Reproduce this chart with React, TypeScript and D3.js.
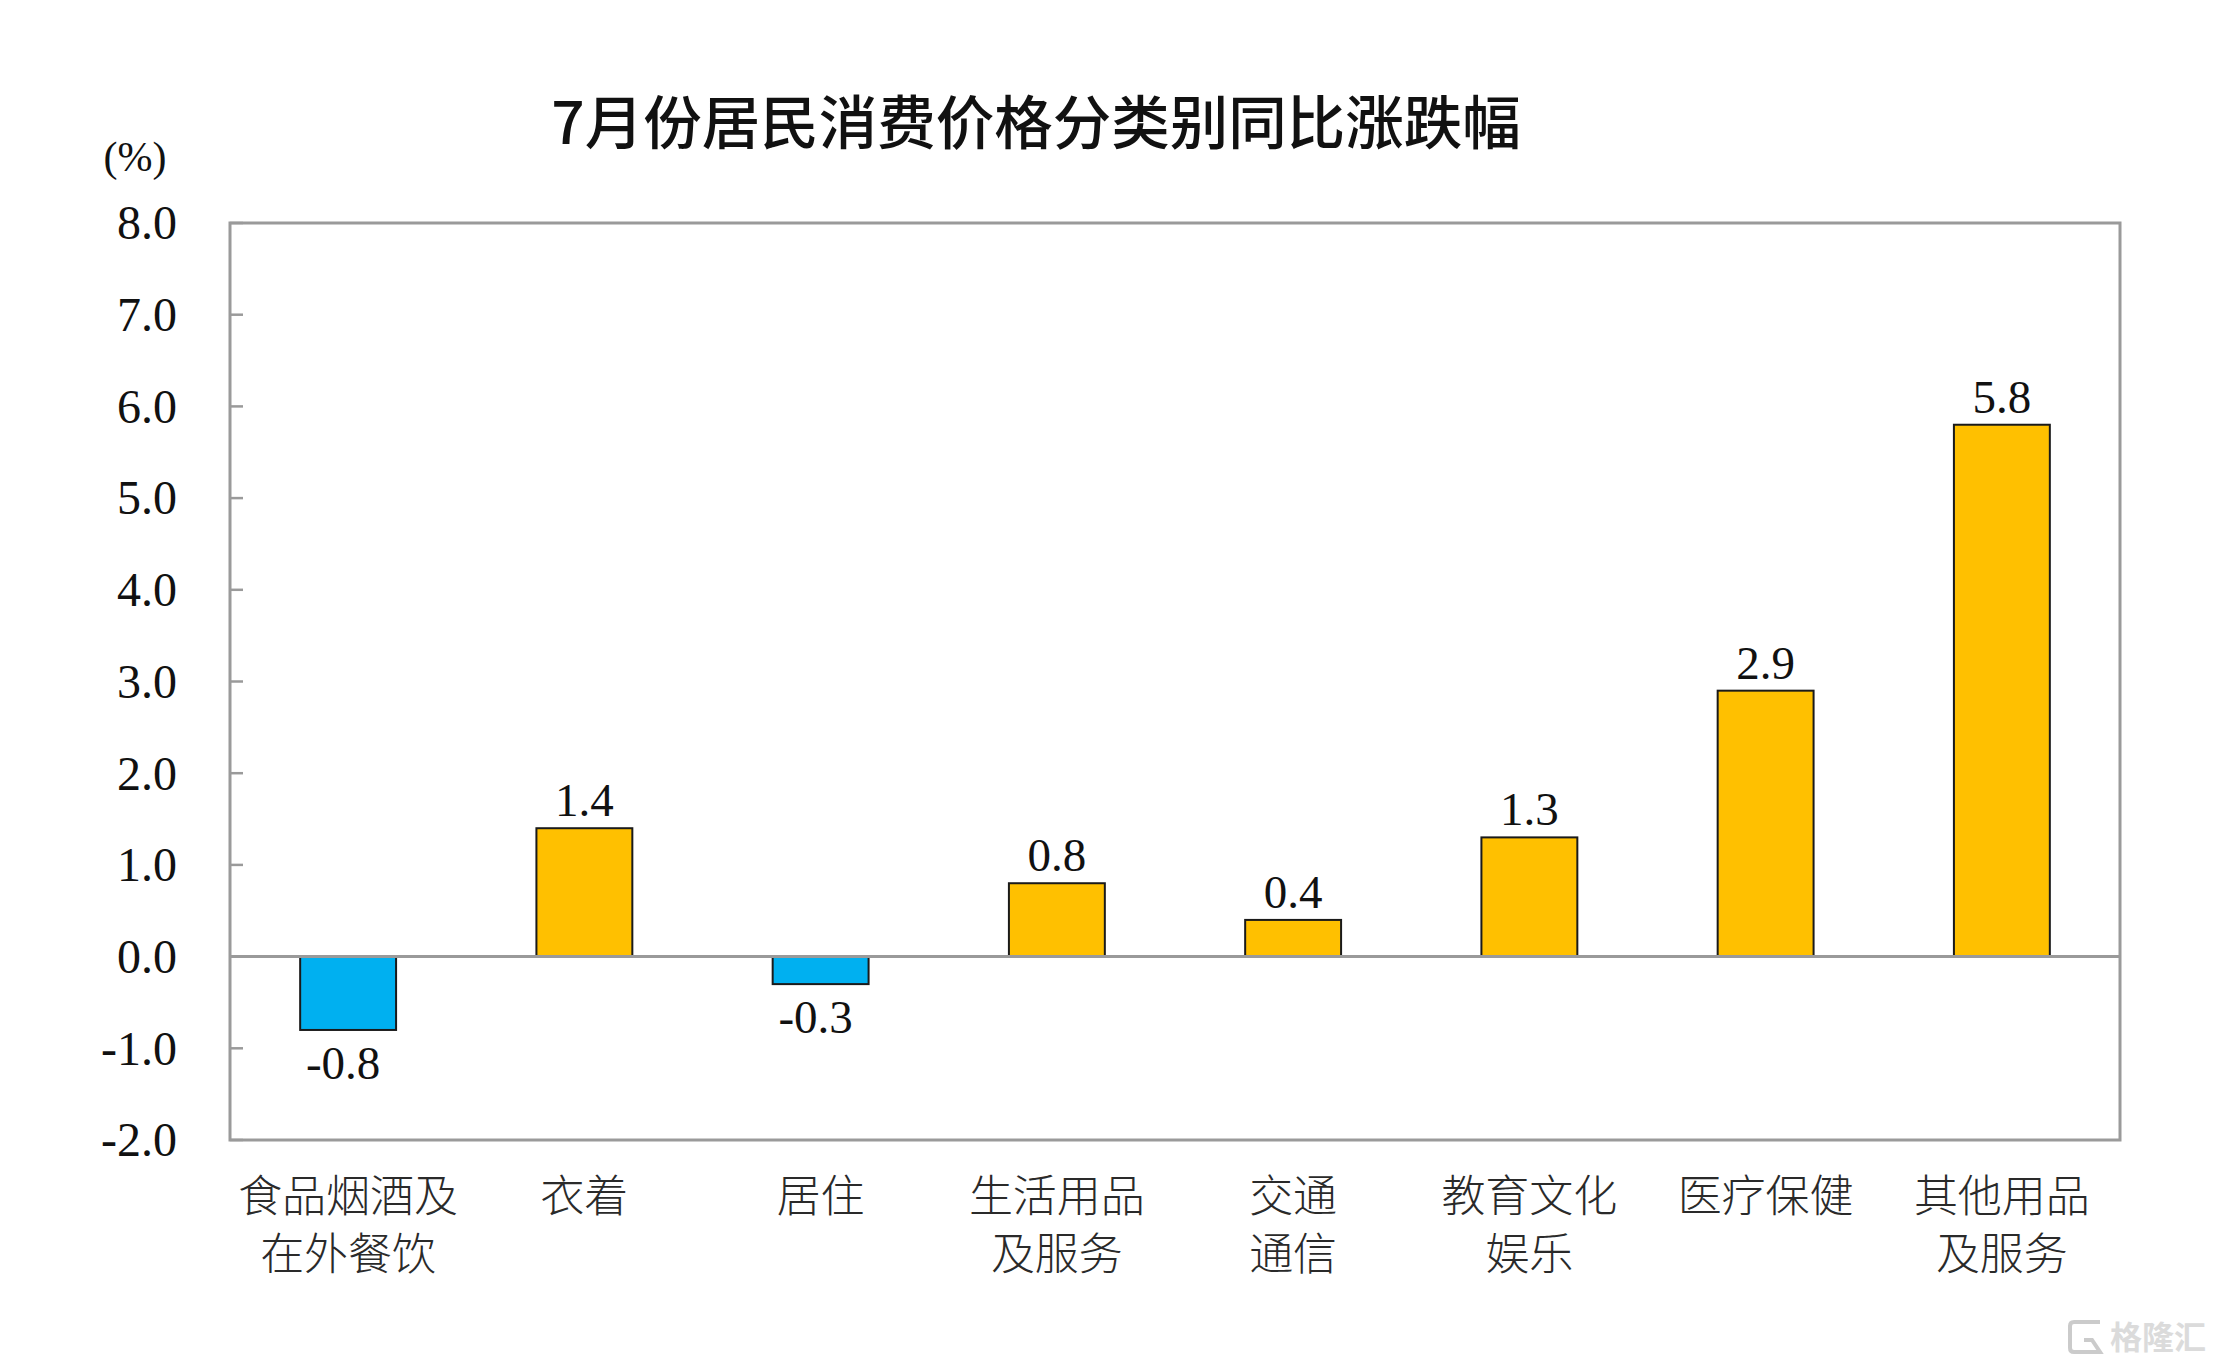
import React, { useEffect, useRef } from "react";
import * as d3 from "d3";

const categories = [
  "食品烟酒及在外餐饮",
  "衣着",
  "居住",
  "生活用品及服务",
  "交通通信",
  "教育文化娱乐",
  "医疗保健",
  "其他用品及服务",
];
const labelLines = [
  ["食品烟酒及", "在外餐饮"],
  ["衣着"],
  ["居住"],
  ["生活用品", "及服务"],
  ["交通", "通信"],
  ["教育文化", "娱乐"],
  ["医疗保健"],
  ["其他用品", "及服务"],
];
const values = [-0.8, 1.4, -0.3, 0.8, 0.4, 1.3, 2.9, 5.8];
const yTicks = [-2, -1, 0, 1, 2, 3, 4, 5, 6, 7, 8];

const title = "7月份居民消费价格分类别同比涨跌幅";

function drawChart(element) {
  d3.select(element).selectAll("*").remove();

  const width = 2213;
  const height = 1369;
  const left = 230;
  const right = 2120;
  const top = 223;
  const bottom = 1140;

  const svg = d3
    .select(element)
    .append("svg")
    .attr("width", width)
    .attr("height", height)
    .style("display", "block")
    .style("background", "#fff");

  const x = d3
    .scaleBand()
    .domain(categories)
    .range([left, right])
    .paddingInner(0.594)
    .paddingOuter(0.297);

  const y = d3.scaleLinear().domain([-2, 8]).range([bottom, top]);

  const serif = "'Liberation Serif', 'Times New Roman', serif";
  const cjk = "'Noto Sans CJK SC', sans-serif";

  // title
  svg
    .append("text")
    .attr("x", 1036)
    .attr("y", 144)
    .attr("text-anchor", "middle")
    .attr("font-family", cjk)
    .attr("font-weight", 500)
    .attr("font-size", 58.5)
    .attr("fill", "#111")
    .text(title);

  // unit
  svg
    .append("text")
    .attr("x", 135)
    .attr("y", 171)
    .attr("text-anchor", "middle")
    .attr("font-family", serif)
    .attr("font-size", 42)
    .attr("fill", "#111")
    .text("(%)");

  // y tick labels
  svg
    .append("g")
    .selectAll("text")
    .data(yTicks)
    .join("text")
    .attr("x", 177)
    .attr("y", (d) => y(d))
    .attr("dy", "0.34em")
    .attr("text-anchor", "end")
    .attr("font-family", serif)
    .attr("font-size", 48)
    .attr("fill", "#111")
    .text((d) => d3.format(".1f")(d).replace("−", "-"));

  // inward ticks on left axis
  svg
    .append("g")
    .selectAll("line")
    .data(yTicks)
    .join("line")
    .attr("x1", left)
    .attr("x2", left + 13)
    .attr("y1", (d) => y(d))
    .attr("y2", (d) => y(d))
    .attr("stroke", "#9a9a9a")
    .attr("stroke-width", 2.5);

  // bars
  svg
    .append("g")
    .selectAll("rect")
    .data(values)
    .join("rect")
    .attr("x", (d, i) => x(categories[i]))
    .attr("width", x.bandwidth())
    .attr("y", (d) => y(Math.max(0, d)))
    .attr("height", (d) => Math.abs(y(d) - y(0)))
    .attr("fill", (d) => (d < 0 ? "#00B0F0" : "#FFC000"))
    .attr("stroke", "#1a1a1a")
    .attr("stroke-width", 2);

  // zero line
  svg
    .append("line")
    .attr("x1", left)
    .attr("x2", right)
    .attr("y1", y(0))
    .attr("y2", y(0))
    .attr("stroke", "#9a9a9a")
    .attr("stroke-width", 3);

  // frame
  svg
    .append("rect")
    .attr("x", left)
    .attr("y", top)
    .attr("width", right - left)
    .attr("height", bottom - top)
    .attr("fill", "none")
    .attr("stroke", "#9a9a9a")
    .attr("stroke-width", 3);

  // value labels
  svg
    .append("g")
    .selectAll("text")
    .data(values)
    .join("text")
    .attr("x", (d, i) => x(categories[i]) + x.bandwidth() / 2 - (d < 0 ? 5 : 0))
    .attr("y", (d) => (d < 0 ? y(d) + 49 : y(d) - 12))
    .attr("text-anchor", "middle")
    .attr("font-family", serif)
    .attr("font-size", 47)
    .attr("fill", "#111")
    .text((d) => d3.format(".1f")(d).replace("−", "-"));

  // category labels
  const cat = svg
    .append("g")
    .selectAll("text")
    .data(labelLines)
    .join("text")
    .attr("text-anchor", "middle")
    .attr("font-family", cjk)
    .attr("font-weight", 300)
    .attr("font-size", 44)
    .attr("fill", "#2a2a2a");

  cat
    .selectAll("tspan")
    .data((d, i) => d.map((line) => ({ line, i })))
    .join("tspan")
    .attr("x", (d) => x(categories[d.i]) + x.bandwidth() / 2)
    .attr("y", (d, j) => 1212 + j * 58)
    .text((d) => d.line);

  // watermark
  const wm = svg.append("g").attr("opacity", 0.6);
  wm.append("path")
    .attr("d", "M2100,1322 H2074 Q2070,1322 2070,1326 V1348 Q2070,1352 2074,1352 H2100 L2092,1340 H2084")
    .attr("fill", "none")
    .attr("stroke", "#aaa")
    .attr("stroke-width", 4);
  wm.append("text")
    .attr("x", 2110)
    .attr("y", 1349)
    .attr("font-family", cjk)
    .attr("font-weight", 700)
    .attr("font-size", 32)
    .attr("fill", "#c4c4c4")
    .text("格隆汇");
}

export default function App() {
  const ref = useRef(null);
  useEffect(() => {
    drawChart(ref.current);
  }, []);
  return (
    <div
      ref={ref}
      style={{ position: "absolute", left: 0, top: 0, width: 2213, height: 1369 }}
    />
  );
}
